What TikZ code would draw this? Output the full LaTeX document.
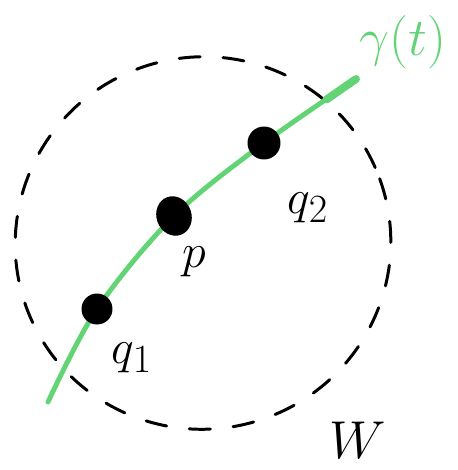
\documentclass[tikz,border=0pt]{standalone}
\usepackage{amsmath,amssymb}
\usepackage{xcolor}
\usepackage{tikz}
\usetikzlibrary{calc,shapes.geometric}
\definecolor{cCurve}{HTML}{62D475}

\begin{document}
\begin{tikzpicture}[x=0.02cm, y=-0.02cm,
  nbhd/.style={draw=black,line width=1.7pt,line cap=round,dash pattern=on 12pt off 13pt},
  curve/.style={draw=cCurve,line width=2.8pt,line cap=round},
  dot/.style={circle,fill=black,inner sep=0pt,minimum size=#1},
  lbl/.style={font=\fontsize{24.88}{27}\selectfont,inner sep=0pt,scale=#1},
  lbl/.default=1.1]
  \useasboundingbox (0,0) rectangle (457,470);
  % neighbourhood W
  \coordinate (w0) at (203,243);
  \draw[nbhd,rotate around={20:(w0)}] (w0) ellipse [x radius=188, y radius=186];
  % the curve gamma
  \coordinate (gS) at (48,402);
  \coordinate (gE) at (356,79);
  \coordinate (a1) at (97,309);
  \coordinate (a2) at (174,216);
  \coordinate (a3) at (264,143);
  \draw[curve] plot[smooth,tension=0.55] coordinates {(gS) (a1) (a2) (a3) (gE)};
  \draw[curve,line width=4.5pt] ($(gE)!0.32!(a3)$) -- (gE);
  % points on gamma
  \node[dot=0.62cm] (q1) at (a1) {};
  \node[ellipse,fill=black,inner sep=0pt,minimum width=0.7cm,minimum height=0.8cm,rotate=20] (p) at (a2) {};
  \node[dot=0.66cm] (q2) at (a3) {};
  % labels
  \node[lbl] (lq1) at (132,358) {$q_1$};
  \node[lbl] (lp) at (194,262) {$p$};
  \node[lbl] (lq2) at (308,208) {$q_2$};
  \node[lbl=1.22,text=cCurve] (lg) at (403,42) {$\gamma(t)$};
  \node[lbl=1.22] (lw) at (358,440) {$W$};
\end{tikzpicture}
\end{document}
